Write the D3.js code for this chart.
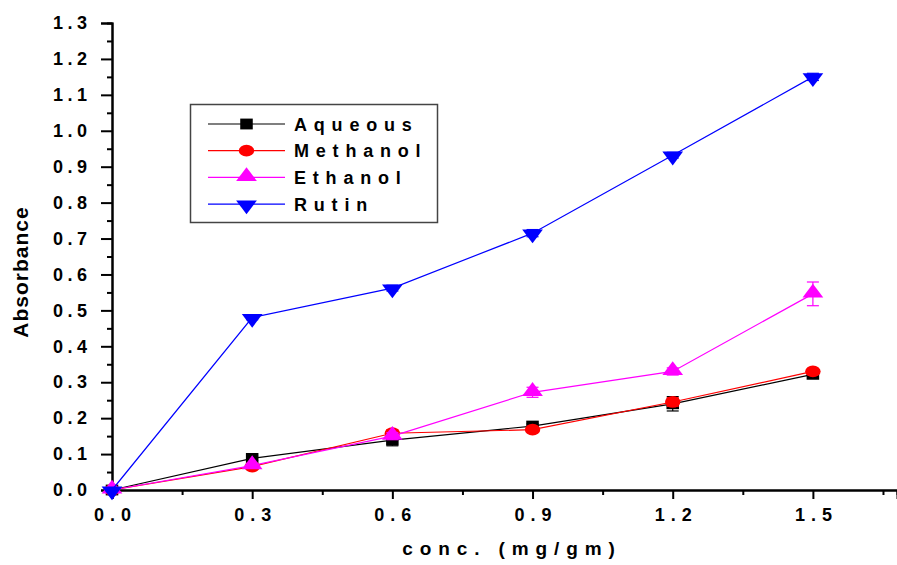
<!DOCTYPE html>
<html>
<head>
<meta charset="utf-8">
<script src="https://cdn.jsdelivr.net/npm/d3@7"></script>
<style>
  body { margin: 0; background: #fff; }
  text { font-family: "Liberation Sans", Arial, sans-serif; font-weight: bold; }
</style>
</head>
<body>
<script>
    // Data
    let conc = [0, 0.3, 0.6, 0.9, 1.2, 1.5];
    let aqueous = [0, 0.088, 0.139, 0.178, 0.240, 0.322];
    let methanol = [0, 0.065, 0.158, 0.168, 0.245, 0.330];
    let ethanol = [0, 0.068, 0.150, 0.272, 0.330, 0.546];
    let rutin = [0, 0.480, 0.562, 0.715, 0.932, 1.150];
    let aqueousErr = [0, 0.006, 0.016, 0.006, 0.020, 0.006];
    let methanolErr = [0, 0.006, 0.010, 0.006, 0.012, 0.006];
    let ethanolErr = [0, 0.006, 0.010, 0.014, 0.010, 0.033];
    let rutinErr = [0, 0.006, 0.008, 0.010, 0.008, 0.010];
    let xTicks = [0, 0.3, 0.6, 0.9, 1.2, 1.5];
    let yTicks = [0, 0.1, 0.2, 0.3, 0.4, 0.5, 0.6, 0.7, 0.8, 0.9, 1.0, 1.1, 1.2, 1.3];

    let series = [
        { name: "Aqueous", values: aqueous, err: aqueousErr, color: "#000000", shape: "square" },
        { name: "Methanol", values: methanol, err: methanolErr, color: "#ff0000", shape: "circle" },
        { name: "Ethanol", values: ethanol, err: ethanolErr, color: "#ff00ff", shape: "up" },
        { name: "Rutin", values: rutin, err: rutinErr, color: "#0000ff", shape: "down" }
    ];

    // Set up SVG
    let W = 897, H = 565;
    let margin = { top: 23, right: 0, bottom: 75, left: 112 };

    let svg = d3.select("body")
        .append("svg")
        .attr("width", W)
        .attr("height", H);

    let x = d3.scaleLinear().domain([0, 1.68]).range([margin.left, W - margin.right]);
    let y = d3.scaleLinear().domain([0, 1.3]).range([H - margin.bottom, margin.top]);

    // Axes
    let xMinor = d3.range(0.15, 1.68, 0.3);
    let yMinor = d3.range(0.05, 1.3, 0.1);

    let xAxis = svg.append("g").attr("transform", `translate(0, ${y(0)})`);
    xAxis.call(d3.axisBottom(x).tickValues(xMinor).tickSize(5).tickFormat(""));
    xAxis.append("g").call(d3.axisBottom(x).tickValues(xTicks).tickSize(9).tickPadding(9)
        .tickFormat(d3.format(".1f")));
    xAxis.selectAll(".domain").attr("stroke-width", 2);

    let yAxis = svg.append("g").attr("transform", `translate(${x(0)}, 0)`);
    yAxis.call(d3.axisLeft(y).tickValues(yMinor).tickSize(5).tickFormat(""));
    yAxis.append("g").call(d3.axisLeft(y).tickValues(yTicks).tickSize(11).tickPadding(9.5)
        .tickFormat(d3.format(".1f")));
    yAxis.selectAll(".domain").attr("stroke-width", 2);

    svg.selectAll(".tick line").attr("stroke-width", 2);
    svg.selectAll(".tick text")
        .attr("fill", "#000")
        .style("font-size", "18px");
    xAxis.selectAll(".tick text").style("letter-spacing", "6px").attr("dx", "3px");
    yAxis.selectAll(".tick text").style("letter-spacing", "4.5px");

    // Axis titles
    svg.append("text")
        .attr("x", 512)
        .attr("y", 555)
        .attr("text-anchor", "middle")
        .style("font-size", "19px")
        .style("letter-spacing", "6.9px")
        .text("conc. (mg/gm)");

    svg.append("text")
        .attr("transform", `translate(28, 272) rotate(-90)`)
        .attr("text-anchor", "middle")
        .style("font-size", "21px")
        .style("letter-spacing", "1px")
        .text("Absorbance");

    // Marker symbols
    let symbolFor = (shape) => {
        if (shape === "square") return d3.symbol().type(d3.symbolSquare).size(130)();
        if (shape === "circle") return d3.symbol().type(d3.symbolCircle).size(120)();
        return d3.symbol().type(d3.symbolTriangle).size(110)();
    };
    let markerTransform = (shape, px, py) => {
        if (shape === "circle") return `translate(${px}, ${py}) scale(1.25, 0.95)`;
        if (shape === "up") return `translate(${px}, ${py - 1}) scale(1.3, 1)`;
        if (shape === "down") return `translate(${px}, ${py + 1}) scale(1.3, -1)`;
        return `translate(${px}, ${py}) scale(1.1, 0.95)`;
    };

    let line = d3.line().x((d) => x(d[0])).y((d) => y(d[1]));

    series.forEach((s) => {
        let pts = conc.map((c, i) => [c, s.values[i], s.err[i]]);
        let g = svg.append("g");

        g.append("path")
            .attr("d", line(pts))
            .attr("fill", "none")
            .attr("stroke", s.color)
            .attr("stroke-width", 1.2);

        // Error bars
        let eb = g.selectAll(".err").data(pts.filter((d) => d[2] > 0)).enter().append("g");
        eb.append("line")
            .attr("x1", (d) => x(d[0])).attr("x2", (d) => x(d[0]))
            .attr("y1", (d) => y(d[1] - d[2])).attr("y2", (d) => y(d[1] + d[2]))
            .attr("stroke", s.color).attr("stroke-width", 1.2);
        eb.selectAll(".cap").data((d) => [[d[0], d[1] - d[2]], [d[0], d[1] + d[2]]]).enter()
            .append("line")
            .attr("x1", (d) => x(d[0]) - 6).attr("x2", (d) => x(d[0]) + 6)
            .attr("y1", (d) => y(d[1])).attr("y2", (d) => y(d[1]))
            .attr("stroke", s.color).attr("stroke-width", 1.2);

        g.selectAll(".m").data(pts).enter().append("path")
            .attr("d", symbolFor(s.shape))
            .attr("transform", (d) => markerTransform(s.shape, x(d[0]), y(d[1])))
            .attr("fill", s.color);
    });

    // Legend
    let lg = svg.append("g");
    lg.append("rect")
        .attr("x", 190.5).attr("y", 104.5)
        .attr("width", 247).attr("height", 118)
        .attr("fill", "#fff")
        .attr("stroke", "#444")
        .attr("stroke-width", 1.5);

    series.forEach((s, i) => {
        let ly = 124 + i * 26.7;
        lg.append("line")
            .attr("x1", 208).attr("x2", 285)
            .attr("y1", ly).attr("y2", ly)
            .attr("stroke", s.color).attr("stroke-width", 1.2);
        lg.append("path")
            .attr("d", symbolFor(s.shape))
            .attr("transform", markerTransform(s.shape, 246.5, ly))
            .attr("fill", s.color);
        lg.append("text")
            .attr("x", 294)
            .attr("y", ly + 6.5)
            .style("font-size", "18px")
            .style("letter-spacing", "6.8px")
            .text(s.name);
    });
</script>
</body>
</html>
